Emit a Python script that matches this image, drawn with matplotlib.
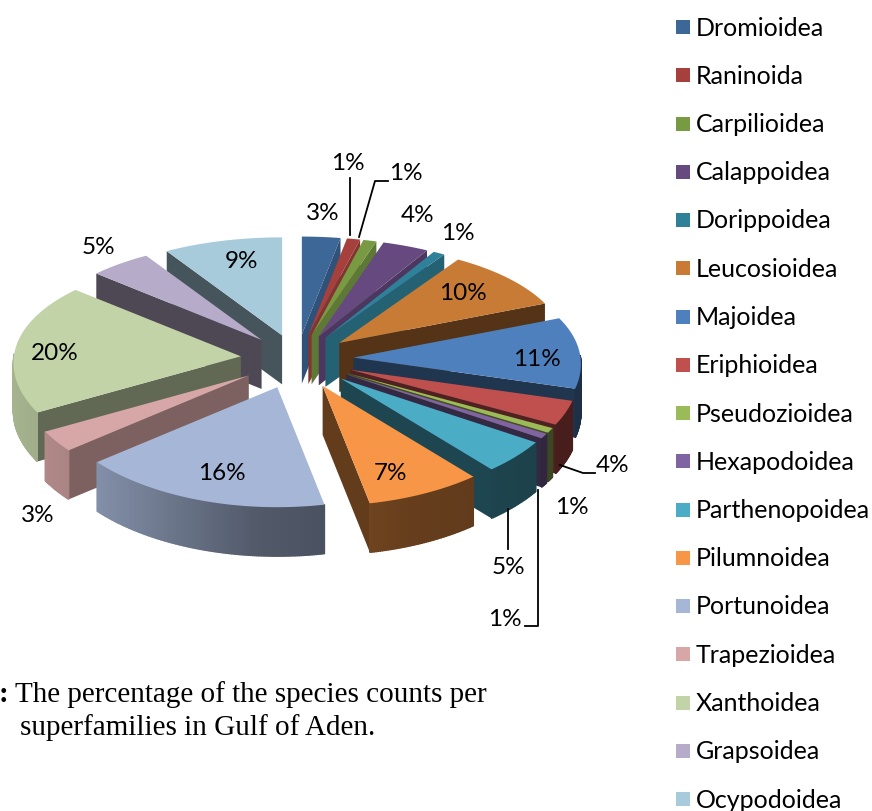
import numpy as np
import matplotlib
matplotlib.use('Agg')
from matplotlib import pyplot as plt
from matplotlib.patches import Polygon, Rectangle

# Data
families = ['Dromioidea', 'Raninoida', 'Carpilioidea', 'Calappoidea', 'Dorippoidea', 'Leucosioidea',
            'Majoidea', 'Eriphioidea', 'Pseudozioidea', 'Hexapodoidea', 'Parthenopoidea', 'Pilumnoidea',
            'Portunoidea', 'Trapezioidea', 'Xanthoidea', 'Grapsoidea', 'Ocypodoidea']
shares = [2.9, 1.0, 1.0, 3.5, 0.9, 9.6, 10.6, 3.5, 0.7, 0.7, 4.7, 7.8, 17.0, 3.0, 19.5, 4.7, 9.0]
pct_labels = ['3%', '1%', '1%', '4%', '1%', '10%', '11%', '4%', '1%', '1%', '5%', '7%', '16%', '3%', '20%', '5%', '9%']
colors = ['#3C6797', '#A5403D', '#779A43', '#65497F', '#2E8199', '#C87B35', '#4E80BD', '#C0504D', '#9BBB59',
          '#8064A2', '#4BACC6', '#F79646', '#A6B6D6', '#D7A6A6', '#C3D3A8', '#B6ABC8', '#A7CBDB']

# Label anchors and leader lines, in image pixels
label_xy = [(323, 214), (348, 163), (406, 173), (418, 216), (458, 234), (463, 294), (537, 359), (613, 466), (572, 508),
            (505, 620), (508, 568), (390, 473), (222, 474), (38, 516), (55, 354), (98, 247), (241, 262)]
leaders = [[(350, 178), (350, 235)],
           [(388, 181), (375, 181), (359, 237)],
           [(560, 465), (583, 473), (595, 473)],
           [(508, 509), (508, 549)],
           [(538, 490), (538, 626), (525, 626)]]

# Pie geometry
cx, cy = 297, 359
explode = 0.25
depth = 49


def project(theta):
    # Clockwise from 12 o'clock, nearer part of the disc drawn bigger
    u = np.sin(np.radians(theta))
    v = np.cos(np.radians(theta))
    return 227 * u * (1 - 0.06 * v), -v * (109 - 11 * v)


def darker(color, f):
    return tuple(c * f for c in matplotlib.colors.to_rgb(color))


def side_shade(u):
    return np.interp(u, [-1, -0.79, -0.1, 0.4, 1], [0.85, 0.8, 0.5, 0.41, 0.37])


def wall_shade(theta):
    if theta < 180:
        return np.interp(theta, [10, 35, 60, 180], [0.8, 0.75, 0.42, 0.4])
    return np.interp(theta, [230, 240, 312, 329], [0.58, 0.5, 0.42, 0.42])


def draw_slice(ax, a1, a2, color):
    mid = (a1 + a2) / 2
    ex, ey = project(mid)
    tx, ty = cx + explode * ex, cy + explode * ey
    th = np.linspace(a1, a2, max(int(a2 - a1) * 2, 6))
    px, py = project(th)
    px, py = tx + px, ty + py

    # cut walls
    for a, show in ((a2, a2 < 180), (a1, a1 > 180)):
        if show:
            wx, wy = project(a)
            pts = [(tx, ty), (tx + wx, ty + wy), (tx + wx, ty + wy + depth), (tx, ty + depth)]
            ax.add_patch(Polygon(pts, closed=True, fc=darker(color, wall_shade(a)), ec='none', zorder=2))

    # rim, split in strips for the shading
    for i in range(len(th) - 1):
        if np.cos(np.radians(th[i])) > 0.02 and np.cos(np.radians(th[i + 1])) > 0.02:
            continue
        c = darker(color, side_shade(np.sin(np.radians(th[i]))))
        pts = [(px[i], py[i]), (px[i + 1], py[i + 1]), (px[i + 1], py[i + 1] + depth), (px[i], py[i] + depth)]
        ax.add_patch(Polygon(pts, closed=True, fc=c, ec=c, lw=1.0, zorder=2))

    pts = [(tx, ty)] + list(zip(px, py))
    ax.add_patch(Polygon(pts, closed=True, fc=color, ec='none', zorder=2))


fig = plt.figure(figsize=(8.72, 8.11), dpi=100)
ax = fig.add_axes([0, 0, 1, 1])
ax.set_xlim(0, 872)
ax.set_ylim(811, 0)
ax.axis('off')

edges = np.concatenate([[0], np.cumsum(shares)]) / np.sum(shares) * 360

# back to front: right side going down, left side going down, the one across 6 o'clock last
order = [i for i in range(len(shares)) if edges[i + 1] <= 180]
order += [i for i in range(len(shares) - 1, -1, -1) if edges[i] >= 180]
order += [i for i in range(len(shares)) if edges[i] < 180 < edges[i + 1]]
for i in order:
    draw_slice(ax, edges[i], edges[i + 1], colors[i])

for pts in leaders:
    ax.plot([p[0] for p in pts], [p[1] for p in pts], color='black', lw=1.3, zorder=3)

for lab, (x, y) in zip(pct_labels, label_xy):
    ax.text(x, y, lab, family='Lato', fontsize=17.5, color='black', ha='center', va='center', zorder=4)

# Legend
legend_y = np.linspace(28, 800, len(families))
for name, col, y in zip(families, colors, legend_y):
    ax.add_patch(Rectangle((676, y - 8), 14, 14, fc=col, ec='none'))
    ax.text(696, y, name, family='Lato', fontsize=18, color='black', ha='left', va='center')

# Caption
ax.text(-1, 695, ':', family='Liberation Serif', fontsize=21, fontweight='bold', va='center')
ax.text(15, 695, 'The percentage of the species counts per', family='Liberation Serif', fontsize=21, va='center')
ax.text(20, 728, 'superfamilies in Gulf of Aden.', family='Liberation Serif', fontsize=21, va='center')

fig.savefig('out.png', dpi=100, facecolor='white')
